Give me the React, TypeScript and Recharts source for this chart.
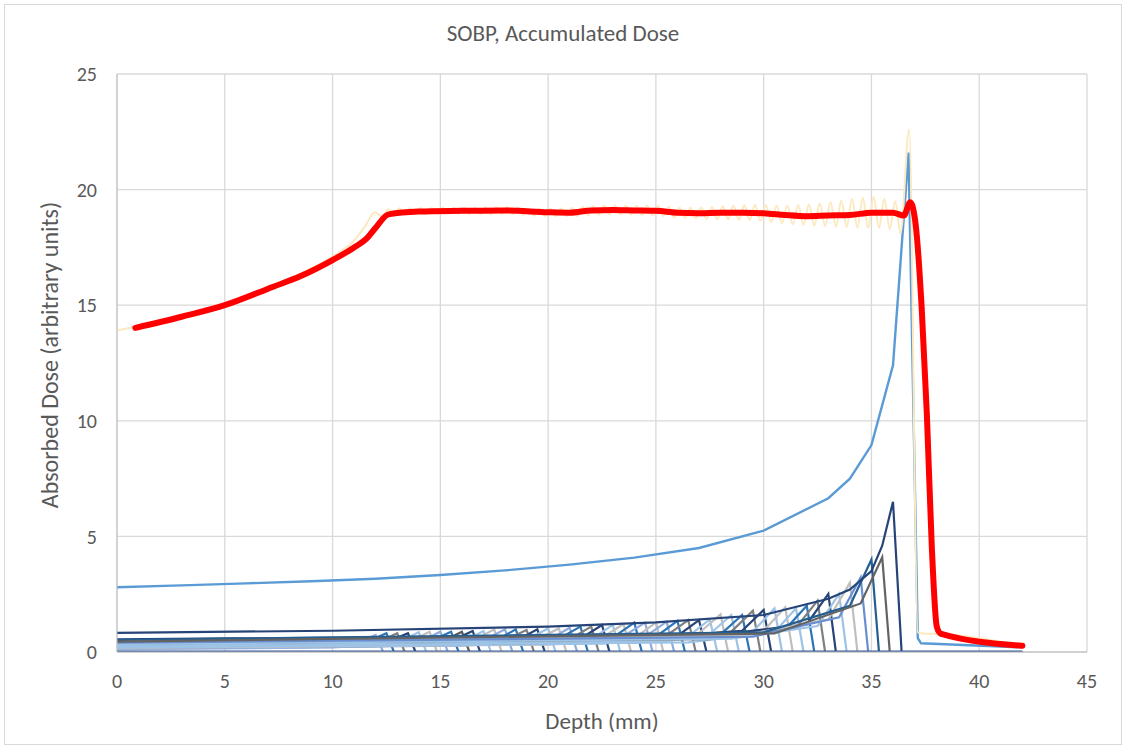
import { LineChart, Line, XAxis, YAxis, CartesianGrid } from 'recharts';

// depth (mm) / dose pairs
const DEPTH_TICKS = [0, 5, 10, 15, 20, 25, 30, 35, 40, 45];
const DOSE_TICKS = [0, 5, 10, 15, 20, 25];

// individual pristine Bragg peaks, shallow -> deep
const BRAGG_CURVES: number[][][] = [
  [[0, 0.22], [7, 0.27], [11, 0.36], [12, 0.74], [12.35, 0], [42, 0]],
  [[0, 0.28], [7.5, 0.32], [11.5, 0.4], [12.5, 0.81], [12.85, 0], [42, 0]],
  [[0, 0.15], [8, 0.22], [12, 0.38], [13, 0.81], [13.35, 0], [42, 0]],
  [[0, 0.33], [8.5, 0.36], [12.5, 0.42], [13.5, 0.81], [13.85, 0], [42, 0]],
  [[0, 0.18], [9, 0.25], [13, 0.4], [14, 0.85], [14.35, 0], [42, 0]],
  [[0, 0.25], [9.5, 0.3], [13.5, 0.42], [14.5, 0.88], [14.85, 0], [42, 0]],
  [[0, 0.12], [10, 0.2], [14, 0.4], [15, 0.88], [15.35, 0], [42, 0]],
  [[0, 0.3], [10.5, 0.35], [14.5, 0.45], [15.5, 0.88], [15.85, 0], [42, 0]],
  [[0, 0.2], [11, 0.27], [15, 0.42], [16, 0.88], [16.35, 0], [42, 0]],
  [[0, 0.36], [11.5, 0.4], [15.5, 0.48], [16.5, 0.91], [16.85, 0], [42, 0]],
  [[0, 0.14], [12, 0.23], [16, 0.42], [17, 0.91], [17.35, 0], [42, 0]],
  [[0, 0.26], [12.5, 0.33], [16.5, 0.48], [17.5, 0.98], [17.85, 0], [42, 0]],
  [[0, 0.32], [13, 0.38], [17, 0.5], [18, 0.98], [18.35, 0], [42, 0]],
  [[0, 0.18], [13.5, 0.27], [17.5, 0.46], [18.5, 0.98], [18.85, 0], [42, 0]],
  [[0, 0.4], [14, 0.44], [18, 0.52], [19, 0.95], [19.35, 0], [42, 0]],
  [[0, 0.22], [14.5, 0.31], [18.5, 0.48], [19.5, 0.98], [19.85, 0], [42, 0]],
  [[0, 0.28], [15, 0.36], [19, 0.52], [20, 1.02], [20.35, 0], [42, 0]],
  [[0, 0.35], [15.5, 0.42], [19.5, 0.55], [20.5, 1.02], [20.85, 0], [42, 0]],
  [[0, 0.16], [16, 0.27], [20, 0.5], [21, 1.05], [21.35, 0], [42, 0]],
  [[0, 0.42], [16.5, 0.48], [20.5, 0.58], [21.5, 1.1], [21.85, 0], [42, 0]],
  [[0, 0.25], [17, 0.35], [21, 0.55], [22, 1.1], [22.35, 0], [42, 0]],
  [[0, 0.3], [17.5, 0.4], [21.5, 0.58], [22.5, 1.17], [22.85, 0], [42, 0]],
  [[0, 0.2], [18, 0.32], [22, 0.56], [23, 1.17], [23.35, 0], [42, 0]],
  [[0, 0.38], [18.5, 0.46], [22.5, 0.62], [23.5, 1.21], [23.85, 0], [42, 0]],
  [[0, 0.27], [19, 0.38], [23, 0.62], [24, 1.27], [24.35, 0], [42, 0]],
  [[0, 0.45], [19.5, 0.52], [23.5, 0.68], [24.5, 1.27], [24.85, 0], [42, 0]],
  [[0, 0.18], [20, 0.32], [24, 0.6], [25, 1.27], [25.35, 0], [42, 0]],
  [[0, 0.33], [20.5, 0.44], [24.5, 0.66], [25.5, 1.31], [25.85, 0], [42, 0]],
  [[0, 0.24], [21, 0.38], [25, 0.66], [26, 1.35], [26.35, 0], [42, 0]],
  [[0, 0.4], [21.5, 0.5], [25.5, 0.72], [26.5, 1.38], [26.85, 0], [42, 0]],
  [[0, 0.29], [22, 0.42], [26, 0.7], [27, 1.38], [27.35, 0], [42, 0]],
  [[0, 0.2], [22.5, 0.36], [26.5, 0.68], [27.5, 1.41], [27.85, 0], [42, 0]],
  [[0, 0.47], [23, 0.58], [27, 0.82], [28, 1.63], [28.35, 0], [42, 0]],
  [[0, 0.35], [23.5, 0.49], [27.5, 0.78], [28.5, 1.6], [28.85, 0], [42, 0]],
  [[0, 0.26], [24, 0.42], [28, 0.76], [29, 1.6], [29.35, 0], [42, 0]],
  [[0, 0.44], [24.5, 0.58], [28.5, 0.88], [29.5, 1.79], [29.85, 0], [42, 0]],
  [[0, 0.5], [25, 0.63], [29, 0.92], [30, 1.82], [30.35, 0], [42, 0]],
  [[0, 0.31], [25.5, 0.48], [29.5, 0.88], [30.5, 1.89], [30.85, 0], [42, 0]],
  [[0, 0.38], [26, 0.55], [30, 0.92], [31, 1.93], [31.35, 0], [42, 0]],
  [[0, 0.23], [26.5, 0.42], [30.5, 0.86], [31.5, 1.89], [31.85, 0], [42, 0]],
  [[0, 0.42], [27, 0.6], [31, 0.98], [32, 2.0], [32.35, 0], [42, 0]],
  [[0, 0.36], [27.5, 0.56], [31.5, 1.05], [32.5, 2.22], [32.85, 0], [42, 0]],
  [[0, 0.55], [28, 0.75], [32, 1.2], [33, 2.51], [33.35, 0], [42, 0]],
  [[0, 0.34], [28.5, 0.58], [32.5, 1.12], [33.5, 2.51], [33.85, 0], [42, 0]],
  [[0, 0.48], [29, 0.72], [33, 1.4], [34, 3.0], [34.35, 0], [42, 0]],
  [[0, 0.4], [29.5, 0.66], [33.5, 1.5], [34.5, 3.23], [34.85, 0], [42, 0]],
  [[0, 0.52], [30, 0.85], [34, 2.0], [35, 4.0], [35.35, 0], [42, 0]],
  [[0, 0.45], [30.5, 0.8], [34.5, 2.1], [35.5, 4.1], [35.85, 0], [42, 0]],
  [[0, 0.83], [10, 0.92], [20, 1.1], [25, 1.28], [30, 1.6], [33, 2.3], [34, 2.7], [35, 3.5], [35.5, 4.6], [36, 6.5], [36.4, 0], [42, 0]],
];

const BRAGG_COLORS = [
  '#8FAADC', '#2E75B6', '#7F7F7F', '#264478', '#9DC3E6', '#BFBFBF',
  '#8FAADC', '#2E75B6', '#595959', '#264478', '#9DC3E6', '#BFBFBF',
  '#8FAADC', '#2E75B6', '#7F7F7F', '#264478', '#9DC3E6', '#BFBFBF',
  '#8FAADC', '#2E75B6', '#7F7F7F', '#264478', '#9DC3E6', '#BFBFBF',
  '#2E75B6', '#8FAADC', '#BFBFBF', '#8FAADC', '#2E75B6', '#7F7F7F',
  '#264478', '#9DC3E6', '#BFBFBF', '#9DC3E6', '#2E75B6', '#7F7F7F',
  '#264478', '#9DC3E6', '#BFBFBF', '#9DC3E6', '#2E75B6', '#7F7F7F',
  '#264478', '#9DC3E6', '#BFBFBF', '#698ED0', '#255E91', '#636363',
  '#264478',
];

const BASELINE: number[][] = [[0, 0], [42, 0]];

// deepest single beam at full weight
const MAIN_BEAM: number[][] = [
  [0, 2.8], [3, 2.88], [6, 2.97], [9, 3.06], [12, 3.17], [15, 3.33], [18, 3.53],
  [21, 3.78], [24, 4.08], [27, 4.5], [30, 5.25], [33, 6.65], [34, 7.5], [35, 8.95],
  [36, 12.4], [36.72, 21.6], [37.15, 0.6], [37.3, 0.38], [42, 0.2],
];

// fine-sampled sum (ripples across the plateau)
const RIPPLE_SUM: number[][] = [
  [0, 13.9], [1, 14.1], [3, 14.55], [5, 15.05], [7.5, 15.95], [10, 17.1], [11, 17.8],
  [11.5, 18.4], [11.97, 19.02], [12.28, 18.83], [12.6, 19.15], [12.85, 18.95],
  [13.1, 19.19], [13.35, 18.95], [13.6, 19.19], [13.85, 18.95], [14.1, 19.2], [14.35, 18.96],
  [14.6, 19.2], [14.85, 18.96], [15.1, 19.21], [15.35, 18.97], [15.6, 19.21], [15.85, 18.96],
  [16.1, 19.22], [16.35, 18.95], [16.6, 19.22], [16.85, 18.94], [17.1, 19.24], [17.35, 18.93],
  [17.6, 19.25], [17.85, 18.95], [18.1, 19.25], [18.35, 18.94], [18.6, 19.22], [18.85, 18.9],
  [19.1, 19.18], [19.35, 18.87], [19.6, 19.17], [19.85, 18.86], [20.1, 19.17], [20.35, 18.85],
  [20.6, 19.18], [20.85, 18.85], [21.1, 19.2], [21.35, 18.86], [21.6, 19.26], [21.85, 18.9],
  [22.1, 19.28], [22.35, 18.92], [22.6, 19.3], [22.85, 18.93], [23.1, 19.31], [23.35, 18.93],
  [23.6, 19.3], [23.85, 18.92], [24.1, 19.3], [24.35, 18.9], [24.6, 19.3], [24.85, 18.88],
  [25.1, 19.3], [25.35, 18.86], [25.6, 19.25], [25.85, 18.8], [26.1, 19.22], [26.35, 18.78],
  [26.6, 19.22], [26.85, 18.76], [27.1, 19.23], [27.35, 18.74], [27.6, 19.25], [27.85, 18.72],
  [28.1, 19.28], [28.35, 18.72], [28.6, 19.3], [28.85, 18.7], [29.1, 19.32], [29.35, 18.68],
  [29.6, 19.33], [29.85, 18.65], [30.1, 19.33], [30.35, 18.6], [30.6, 19.3], [30.85, 18.55],
  [31.1, 19.3], [31.35, 18.5], [31.6, 19.33], [31.85, 18.48], [32.1, 19.36], [32.35, 18.45],
  [32.6, 19.4], [32.85, 18.42], [33.1, 19.45], [33.35, 18.4], [33.6, 19.52], [33.85, 18.38],
  [34.1, 19.6], [34.35, 18.35], [34.6, 19.65], [34.85, 18.35], [35.1, 19.68], [35.35, 18.35],
  [35.6, 19.6], [35.85, 18.3], [36.1, 19.5], [36.35, 18.1], [36.75, 22.6], [37.15, 0.85],
  [37.4, 0.8], [38.2, 0.78], [42, 0.27],
];

// accumulated SOBP dose
const SOBP: number[][] = [
  [0.85, 14.02], [3, 14.5], [5, 15.0], [7.25, 15.8], [8.5, 16.25], [10, 16.95], [11, 17.5],
  [11.6, 17.9], [12, 18.35], [12.6, 18.93], [14, 19.05], [16, 19.08], [18, 19.1], [20, 19.02],
  [21, 19.0], [22, 19.1], [23, 19.12], [24, 19.1], [25, 19.08], [26, 19.0], [27, 18.98],
  [28, 19.0], [29, 19.0], [30, 18.98], [31, 18.9], [32, 18.85], [33, 18.88], [34, 18.9],
  [35, 19.0], [36, 19.0], [36.5, 18.88], [36.8, 19.45], [37.05, 18.5], [37.33, 14.9],
  [37.57, 10.3], [37.8, 4.55], [38.03, 1.1], [38.2, 0.8], [42, 0.27],
];

const toPoints = (pts: number[][]) => pts.map(([x, y]) => ({ x, y }));

const FONT = "Carlito, Calibri, Lato, 'Liberation Sans', sans-serif";
const TEXT = '#595959';

export default function App() {
  return (
    <div
      style={{
        position: 'absolute',
        left: 4,
        top: 4,
        width: 1118,
        height: 741,
        border: '1px solid #D9D9D9',
        boxSizing: 'border-box',
        background: '#fff',
        fontFamily: FONT,
      }}
    >
      <div
        style={{
          position: 'absolute',
          top: 14,
          width: '100%',
          textAlign: 'center',
          fontSize: 23,
          color: TEXT,
        }}
      >
        SOBP, Accumulated Dose
      </div>
      <LineChart
        width={1116}
        height={739}
        margin={{ top: 69, right: 34, bottom: 0, left: 0 }}
        style={{ position: 'absolute', left: 0, top: 0 }}
      >
        <CartesianGrid stroke="#D9D9D9" strokeWidth={1.3} />
        <XAxis
          type="number"
          dataKey="x"
          domain={[0, 45]}
          ticks={DEPTH_TICKS}
          allowDataOverflow
          height={92}
          tickLine={false}
          axisLine={{ stroke: '#BFBFBF' }}
          tickMargin={16}
          tick={{ fill: TEXT, fontSize: 20, fontFamily: FONT }}
          label={{ value: 'Depth (mm)', position: 'insideBottom', offset: 15, fill: TEXT, fontSize: 23, fontFamily: FONT }}
        />
        <YAxis
          type="number"
          dataKey="y"
          domain={[0, 25]}
          ticks={DOSE_TICKS}
          allowDataOverflow
          width={112}
          tickLine={false}
          axisLine={{ stroke: '#BFBFBF' }}
          tickMargin={14}
          tick={{ fill: TEXT, fontSize: 20, fontFamily: FONT }}
          label={{
            value: 'Absorbed Dose (arbitrary units)',
            angle: -90,
            position: 'insideLeft',
            offset: 44,
            dy: -8,
            fill: TEXT,
            fontSize: 24,
            fontFamily: FONT,
            style: { textAnchor: 'middle' },
          }}
        />
        {BRAGG_CURVES.map((curve, i) => (
          <Line
            key={`bragg-${i}`}
            data={toPoints(curve)}
            dataKey="y"
            type="linear"
            stroke={BRAGG_COLORS[i]}
            strokeWidth={2.2}
            dot={false}
            activeDot={false}
            isAnimationActive={false}
          />
        ))}
        <Line
          data={toPoints(BASELINE)}
          dataKey="y"
          type="linear"
          stroke="#2F5597"
          strokeWidth={3}
          dot={false}
          activeDot={false}
          isAnimationActive={false}
        />
        <Line
          data={toPoints(MAIN_BEAM)}
          dataKey="y"
          type="linear"
          stroke="#5B9BD5"
          strokeWidth={2.4}
          dot={false}
          activeDot={false}
          isAnimationActive={false}
        />
        <Line
          data={toPoints(RIPPLE_SUM)}
          dataKey="y"
          type="monotone"
          stroke="#FCE9BF"
          strokeWidth={2}
          dot={false}
          activeDot={false}
          isAnimationActive={false}
        />
        <Line
          data={toPoints(SOBP)}
          dataKey="y"
          type="monotone"
          stroke="#FF0000"
          strokeWidth={6}
          strokeLinejoin="round"
          strokeLinecap="round"
          dot={false}
          activeDot={false}
          isAnimationActive={false}
        />
      </LineChart>
    </div>
  );
}
